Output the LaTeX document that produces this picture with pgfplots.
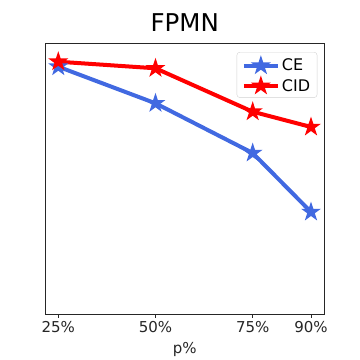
\documentclass[border=0pt]{standalone}
\usepackage{pgfplots}
\pgfplotsset{compat=1.18}
\usepackage{fontspec}
\setmainfont{DejaVu Sans}
\definecolor{royal}{RGB}{65,105,225}
\definecolor{axgray}{RGB}{38,38,38}
\pgfdeclareplotmark{fstar}{%
  \pgfpathmoveto{\pgfpointpolar{90}{\pgfplotmarksize}}%
  \pgfpathlineto{\pgfpointpolar{126}{0.382*\pgfplotmarksize}}%
  \pgfpathlineto{\pgfpointpolar{162}{\pgfplotmarksize}}%
  \pgfpathlineto{\pgfpointpolar{198}{0.382*\pgfplotmarksize}}%
  \pgfpathlineto{\pgfpointpolar{234}{\pgfplotmarksize}}%
  \pgfpathlineto{\pgfpointpolar{270}{0.382*\pgfplotmarksize}}%
  \pgfpathlineto{\pgfpointpolar{306}{\pgfplotmarksize}}%
  \pgfpathlineto{\pgfpointpolar{342}{0.382*\pgfplotmarksize}}%
  \pgfpathlineto{\pgfpointpolar{18}{\pgfplotmarksize}}%
  \pgfpathlineto{\pgfpointpolar{54}{0.382*\pgfplotmarksize}}%
  \pgfpathclose
  \pgfusepathqfill
}
\begin{document}
\begin{tikzpicture}
\path[use as bounding box] (-45.3pt,-46pt) rectangle (314.7pt,314pt);
\begin{axis}[
  at={(0pt,0pt)}, anchor=south west,
  scale only axis, width=279pt, height=270.7pt,
  xmin=21.66, xmax=93.42, ymin=0, ymax=270.7,
  xtick={25,50,75,90},
  xticklabels={25\%,50\%,75\%,90\%},
  ytick=\empty,
  tick align=outside,
  major tick length=3.5pt,
  every tick/.style={axgray, line width=0.8pt},
  axis line style={axgray, line width=0.8pt},
  ticklabel style={font=\fontsize{15}{18}\selectfont, text=axgray},
  /pgf/number format/assume math mode=true,
  xtick pos=bottom,
  xlabel={p\%},
  xlabel style={font=\fontsize{15}{18}\selectfont, text=axgray, yshift=-3pt},
  title={FPMN},
  title style={font=\fontsize{24.5}{29}\selectfont, anchor=base, yshift=5.6pt},
  legend style={at={(1,1)}, anchor=north east, xshift=-7pt, yshift=-8.7pt,
    font=\fontsize{16}{19}\selectfont, draw=gray!35, rounded corners=3pt,
    row sep=1pt, inner xsep=5pt, inner ysep=3pt},
  legend cell align=left,
  legend image code/.code={%
    \draw[mark repeat=2,mark phase=2] plot coordinates {(0pt,0pt) (17pt,0pt) (34pt,0pt)};},
  clip=false,
]
\addplot[royal, line width=4pt, mark=fstar, mark size=10.5pt, mark options={solid}]
  coordinates {(25,247.3) (50,210.7) (75,161) (90,102)};
\addlegendentry{CE}
\addplot[red, line width=4pt, mark=fstar, mark size=10.5pt, mark options={solid}]
  coordinates {(25,252.3) (50,245.7) (75,202.3) (90,187)};
\addlegendentry{CID}
\end{axis}
\end{tikzpicture}
\end{document}
